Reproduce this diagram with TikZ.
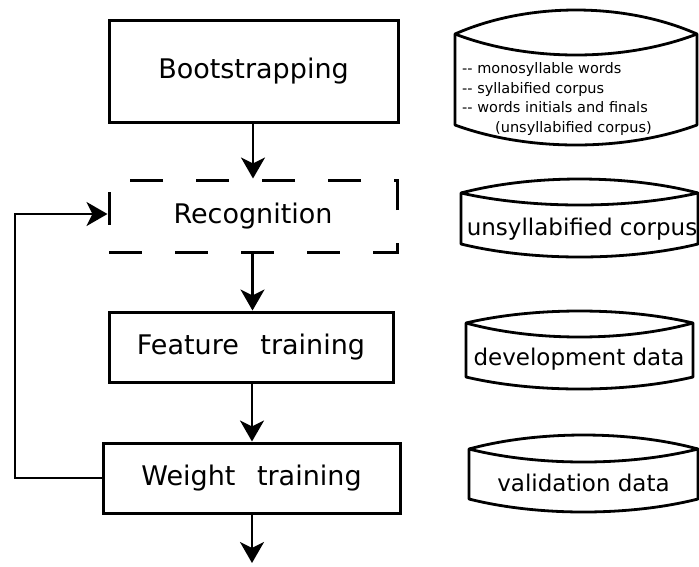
\documentclass[tikz,border=0pt]{standalone}
\usepackage{fontspec}
\setmainfont{DejaVu Sans}
\usetikzlibrary{arrows.meta}
\newcommand\dstore[7]{%
  \draw[storeline] (#1,#4) .. controls ({#1+0.3*(#2-#1)},{(4*#3-#4)/3}) and ({#2-0.3*(#2-#1)},{(4*#3-#4)/3}) .. (#2,#4)
     -- (#2,#6) .. controls ({#2-0.3*(#2-#1)},{(4*#7-#6)/3}) and ({#1+0.3*(#2-#1)},{(4*#7-#6)/3}) .. (#1,#6) -- cycle;
  \draw[storeline] (#1,#4) .. controls ({#1+0.3*(#2-#1)},{(4*#5-#4)/3}) and ({#2-0.3*(#2-#1)},{(4*#5-#4)/3}) .. (#2,#4);
}
\begin{document}
\begin{tikzpicture}[x=1pt,y=-1pt,
  procbox/.style={draw,line width=3pt,inner sep=0pt,font=\fontsize{27}{32}\selectfont},
  dashbox/.style={draw,line width=3pt,inner sep=0pt,dash pattern=on 33pt off 33pt,font=\fontsize{27}{32}\selectfont},
  arr/.style={line width=2.6pt,-{Stealth[length=21pt,width=24pt,inset=6pt]}},
  storeline/.style={line width=2.8pt,line join=round},
  storetext/.style={inner sep=0pt,anchor=base,font=\fontsize{23}{27}\selectfont},
  smalltext/.style={inner sep=0pt,anchor=base west,font=\fontsize{14.5}{19.5}\selectfont}]
\useasboundingbox (0,0) rectangle (699,566);
\fill[white] (0,0) rectangle (699,566);
% process boxes
\node[procbox,minimum width=289pt,minimum height=102pt] (boot) at (253.5,71) {Bootstrapping};
\node[dashbox,minimum width=288pt,minimum height=72pt] (recog) at (253,216) {Recognition};
\node[procbox,minimum width=284pt,minimum height=70pt] (feat) at (251,347) {Feature\hspace{0.8em}training};
\node[procbox,minimum width=297pt,minimum height=70pt] (weight) at (251.5,478) {Weight\hspace{0.8em}training};
\coordinate (loopc) at (15,478);
\coordinate (outend) at (252,563);
% connectors
\draw[arr] (boot.south -| 253,0) -- (recog.north -| 253,0);
\draw[arr] (recog.south -| 252.5,0) -- (feat.north -| 252.5,0);
\draw[arr] (feat.south -| 252,0) -- (weight.north -| 252,0);
\draw[arr] (weight.south -| 252,0) -- (outend);
\draw[arr,line join=miter] (weight.west) -- (loopc) |- ([yshift=2pt]recog.west);
% data stores
\dstore{455}{697}{10}{34}{55}{125}{145}
\dstore{461}{698}{179}{193}{205}{244}{257}
\dstore{466}{693}{311}{323}{337}{377}{389}
\dstore{469}{698}{435}{449}{462}{499}{512}
\node[smalltext] (s1a) at (462,73) {-\kern0pt- monosyllable words};
\node[smalltext] (s1b) at (462,93) {-\kern0pt- syllabified corpus};
\node[smalltext] (s1c) at (462,112) {-\kern0pt- words initials and finals};
\node[smalltext] (s1d) at (495,132) {(unsyllabified corpus)};
\node[storetext] (s2) at (582,235) {unsyllabified corpus};
\node[storetext] (s3) at (579,365) {development data};
\node[storetext] (s4) at (583.5,491) {validation data};
\end{tikzpicture}
\end{document}
